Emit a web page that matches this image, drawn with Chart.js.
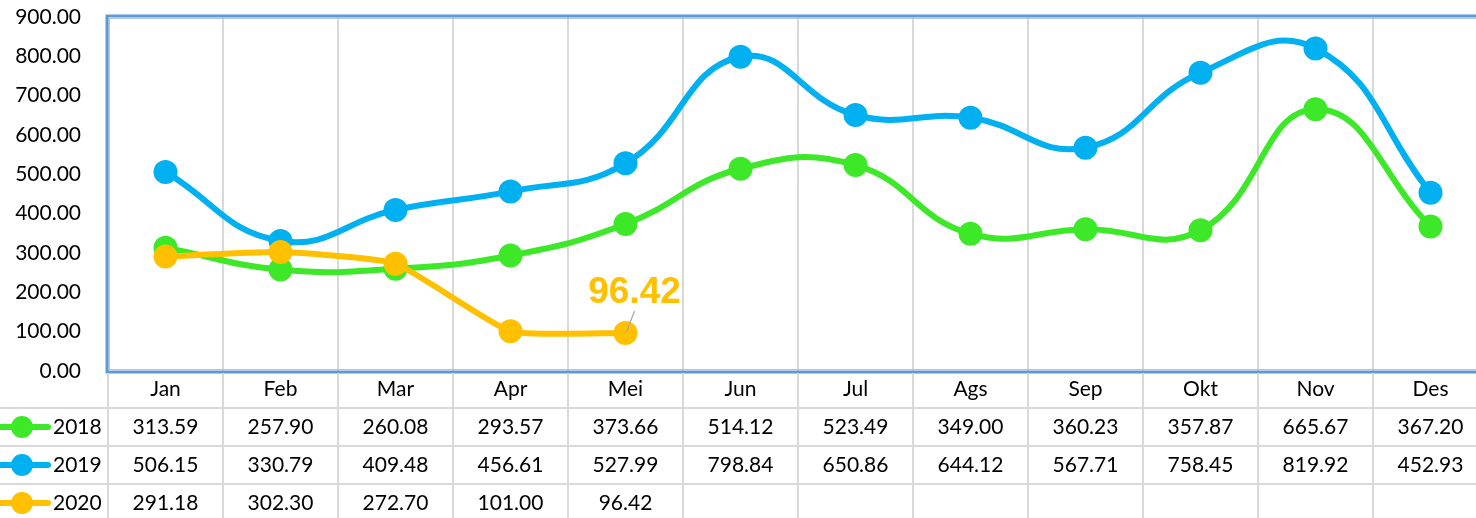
<!DOCTYPE html>
<html>
<head>
<meta charset="utf-8">
<script src="https://cdn.jsdelivr.net/npm/chart.js@4.4.1/dist/chart.umd.min.js"></script>
<style>
  html, body { margin: 0; padding: 0; background: #fff; overflow: hidden; }
  #wrap { width: 1500px; height: 518px; }
</style>
</head>
<body>
<div id="wrap"><canvas id="chart" width="1500" height="518"></canvas></div>
<script>
const months = ['Jan','Feb','Mar','Apr','Mei','Jun','Jul','Ags','Sep','Okt','Nov','Des'];
const years = ['2018','2019','2020'];
const values2018 = [313.59, 257.90, 260.08, 293.57, 373.66, 514.12, 523.49, 349.00, 360.23, 357.87, 665.67, 367.20];
const values2019 = [506.15, 330.79, 409.48, 456.61, 527.99, 798.84, 650.86, 644.12, 567.71, 758.45, 819.92, 452.93];
const values2020 = [291.18, 302.30, 272.70, 101.00, 96.42, null, null, null, null, null, null, null];
const colors = ['#3DE828', '#00B0F0', '#FFC000'];
const labelIndex = 4; // 2020 Mei gets the big label

const FONT = 'Lato, "Liberation Sans", sans-serif';

const tablePlugin = {
    id: 'table',
    beforeDatasetsDraw(chart) {
        const {ctx, chartArea: a} = chart;
        ctx.save();
        // plot border, double line like Excel
        ctx.strokeStyle = '#5B9BD5';
        ctx.lineWidth = 3;
        ctx.strokeRect(a.left - 1, a.top - 1, a.right - a.left + 2, a.bottom - a.top + 2);
        ctx.strokeStyle = '#B4C7E7';
        ctx.lineWidth = 1;
        ctx.strokeRect(a.left + 1.5, a.top + 1.5, a.right - a.left - 3, a.bottom - a.top - 3);
        ctx.restore();
    },
    afterDraw(chart) {
        const {ctx, chartArea: a, scales: {x}} = chart;
        const H = chart.height;
        const half = (x.getPixelForValue(1) - x.getPixelForValue(0)) / 2;
        const rowH = 38;
        const rowTop = a.bottom + 37;
        ctx.save();
        ctx.strokeStyle = '#D9D9D9';
        ctx.lineWidth = 2;
        // vertical lines through the table
        for (let i = 0; i <= months.length; i++) {
            const px = Math.round(x.getPixelForValue(0) - half + i * half * 2);
            ctx.beginPath();
            ctx.moveTo(px, a.bottom + 2);
            ctx.lineTo(px, H);
            ctx.stroke();
        }
        // horizontal row lines
        for (let r = 0; r < 3; r++) {
            const py = rowTop + r * rowH;
            ctx.beginPath();
            ctx.moveTo(0, py);
            ctx.lineTo(chart.width, py);
            ctx.stroke();
        }
        const series = [values2018, values2019, values2020];
        ctx.font = '21px ' + FONT;
        ctx.textBaseline = 'middle';
        series.forEach((vals, r) => {
            const cy = rowTop + r * rowH + rowH / 2;
            // legend key
            ctx.strokeStyle = colors[r];
            ctx.lineWidth = 6;
            ctx.lineCap = 'round';
            ctx.beginPath();
            ctx.moveTo(-4, cy);
            ctx.lineTo(48, cy);
            ctx.stroke();
            ctx.fillStyle = colors[r];
            ctx.beginPath();
            ctx.arc(22, cy, 11, 0, Math.PI * 2);
            ctx.fill();
            ctx.fillStyle = '#000';
            ctx.textAlign = 'left';
            ctx.fillText(years[r], 53, cy);
            ctx.textAlign = 'center';
            vals.forEach((v, i) => {
                if (v === null) return;
                ctx.fillText(v.toFixed(2), x.getPixelForValue(i), cy);
            });
        });
        // data label for last 2020 point
        const meta = chart.getDatasetMeta(2);
        const pt = meta.data[labelIndex];
        ctx.strokeStyle = '#A6A6A6';
        ctx.lineWidth = 1.2;
        ctx.lineCap = 'butt';
        ctx.beginPath();
        ctx.moveTo(pt.x + 1, pt.y - 1);
        ctx.lineTo(pt.x + 9, pt.y - 22);
        ctx.stroke();
        ctx.fillStyle = colors[2];
        ctx.font = 'bold 37px "Liberation Sans", Arial, sans-serif';
        ctx.textAlign = 'center';
        ctx.fillText(values2020[labelIndex].toFixed(2), pt.x + 9, pt.y - 40);
        ctx.restore();
    }
};

function ds(label, data, color, order, tension) {
    return {
        label, data, order, tension,
        borderColor: color,
        backgroundColor: color,
        borderWidth: 6,
        pointRadius: 12,
        pointBorderWidth: 0,
        pointBackgroundColor: color,
        fill: false
    };
}

new Chart(document.getElementById('chart'), {
    type: 'line',
    data: {
        labels: months,
        datasets: [
            ds('2018', values2018, colors[0], 3, 0.45),
            ds('2019', values2019, colors[1], 2, 0.45),
            ds('2020', values2020, colors[2], 1, 0.15)
        ]
    },
    options: {
        responsive: false,
        animation: false,
        layout: { padding: { top: 17, right: 12, left: 0, bottom: 0 } },
        plugins: { legend: { display: false }, tooltip: { enabled: false } },
        scales: {
            y: {
                min: 0, max: 900,
                ticks: {
                    stepSize: 100,
                    color: '#000',
                    padding: 19,
                    font: { size: 21, family: FONT },
                    callback: v => v.toFixed(2)
                },
                grid: { display: false },
                border: { display: false },
                afterFit: s => { s.width = 108; s.paddingTop = 0; s.paddingBottom = 0; }
            },
            x: {
                offset: true,
                grid: { offset: true, color: '#D9D9D9', lineWidth: 2, drawTicks: false },
                border: { display: false },
                ticks: {
                    color: '#000',
                    padding: 6,
                    maxRotation: 0,
                    font: { size: 21, family: FONT }
                },
                afterFit: s => { s.height = 147; s.paddingLeft = 0; s.paddingRight = 0; }
            }
        }
    },
    plugins: [tablePlugin]
});
</script>
</body>
</html>
